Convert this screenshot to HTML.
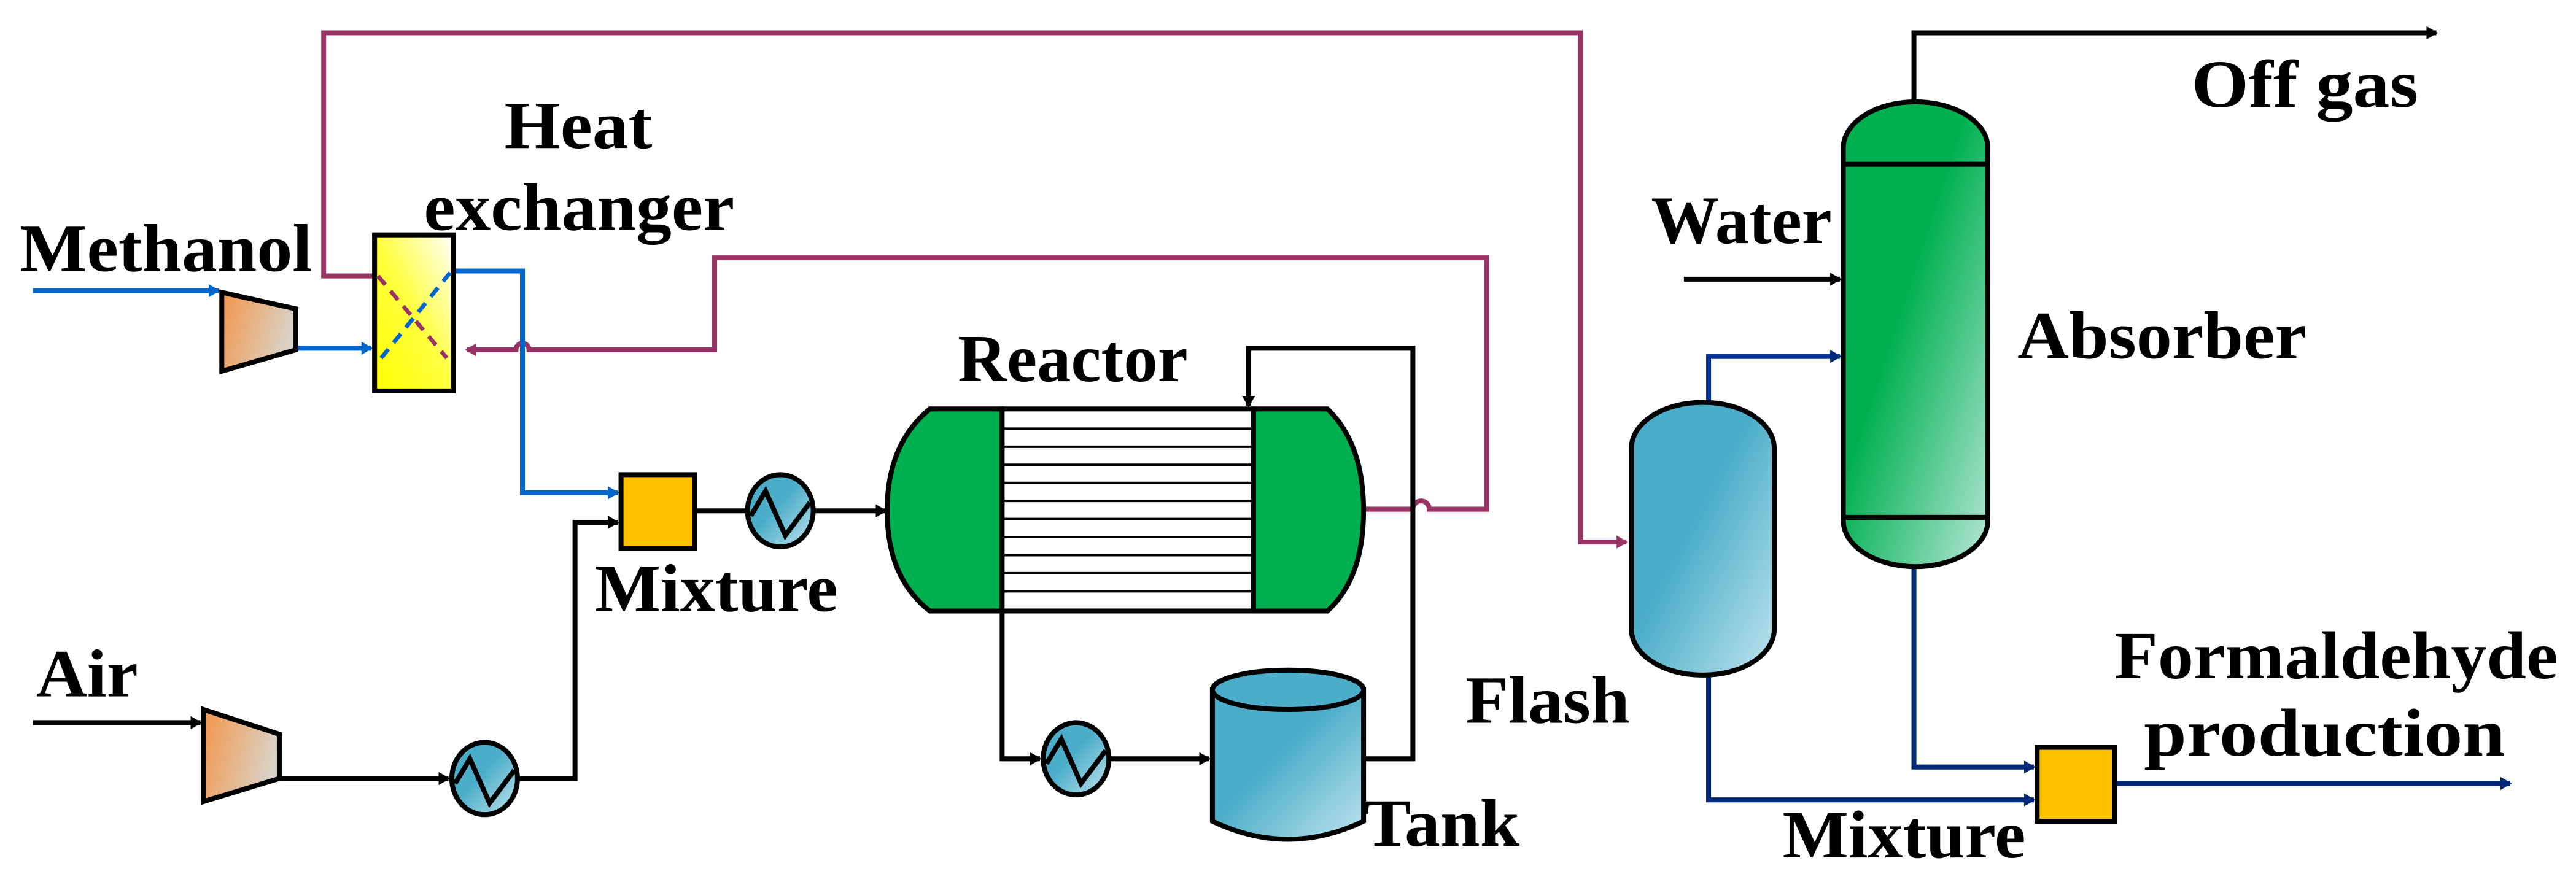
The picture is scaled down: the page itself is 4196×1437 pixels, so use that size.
<!DOCTYPE html>
<html><head><meta charset="utf-8"><style>html,body{margin:0;padding:0;background:#fff}svg{display:block}</style></head><body>
<svg width="4196" height="1437" viewBox="0 0 1568 537" xmlns="http://www.w3.org/2000/svg">
<defs>
<linearGradient id="yel" x1="1" y1="0" x2="0" y2="1"><stop offset="0" stop-color="#ffffff"/><stop offset="0.5" stop-color="#ffff40"/><stop offset="1" stop-color="#ffff00"/></linearGradient>
<linearGradient id="org" x1="0" y1="0" x2="1" y2="0.3"><stop offset="0" stop-color="#f4954a"/><stop offset="1" stop-color="#d9d2c6"/></linearGradient>
<linearGradient id="blu" x1="0.2" y1="0.2" x2="1" y2="1"><stop offset="0.3" stop-color="#4badc8"/><stop offset="1" stop-color="#c0e4ee"/></linearGradient>
<linearGradient id="grn" x1="0.2" y1="0.15" x2="1" y2="1"><stop offset="0.3" stop-color="#00b050"/><stop offset="1" stop-color="#b8e6d8"/></linearGradient>
<marker id="ak" markerWidth="8" markerHeight="8" refX="6" refY="4" orient="auto" markerUnits="userSpaceOnUse"><path d="M0,0 L7,4 L0,8 z" fill="#000"/></marker>
<marker id="ab" markerWidth="8" markerHeight="8" refX="6" refY="4" orient="auto" markerUnits="userSpaceOnUse"><path d="M0,0 L7,4 L0,8 z" fill="#0066cc"/></marker>
<marker id="ap" markerWidth="8" markerHeight="8" refX="6" refY="4" orient="auto" markerUnits="userSpaceOnUse"><path d="M0,0 L7,4 L0,8 z" fill="#993366"/></marker>
<marker id="an" markerWidth="8" markerHeight="8" refX="6" refY="4" orient="auto" markerUnits="userSpaceOnUse"><path d="M0,0 L7,4 L0,8 z" fill="#002878"/></marker>
</defs>
<g fill="none" stroke-linejoin="miter">
<path d="M228,168 H197 V20 H962 V330 H990" stroke="#993366" stroke-width="3" marker-end="url(#ap)"/>
<path d="M830,310 H860 A5,5 0 0 1 870,310 H905 V157 H435 V213 H322 A4,4 0 0 0 314,213 H284" stroke="#993366" stroke-width="3" marker-end="url(#ap)"/>
<path d="M20,177 H133" stroke="#0066cc" stroke-width="3" marker-end="url(#ab)"/>
<path d="M180,212 H226" stroke="#0066cc" stroke-width="3" marker-end="url(#ab)"/>
<path d="M276,165 H318 V300 H376" stroke="#0066cc" stroke-width="3" marker-end="url(#ab)"/>
<path d="M20,440 H122" stroke="#000" stroke-width="3" marker-end="url(#ak)"/>
<path d="M170,474 H273" stroke="#000" stroke-width="3" marker-end="url(#ak)"/>
<path d="M315,474 H350 V318 H376" stroke="#000" stroke-width="3" marker-end="url(#ak)"/>
<path d="M423,311 H454" stroke="#000" stroke-width="3"/>
<path d="M495,311 H539" stroke="#000" stroke-width="3" marker-end="url(#ak)"/>
<path d="M830,462 H860 V212 H760 V247" stroke="#000" stroke-width="3" marker-end="url(#ak)"/>
<path d="M610,372 V462 H633" stroke="#000" stroke-width="3" marker-end="url(#ak)"/>
<path d="M675,462 H736" stroke="#000" stroke-width="3" marker-end="url(#ak)"/>
<path d="M1025,170 H1120" stroke="#000" stroke-width="3" marker-end="url(#ak)"/>
<path d="M1165,62 V20 H1483" stroke="#000" stroke-width="3" marker-end="url(#ak)"/>
<path d="M1040,248 V217 H1120" stroke="#003399" stroke-width="3" marker-end="url(#an)"/>
<path d="M1165,345 V467 H1238" stroke="#002878" stroke-width="3" marker-end="url(#an)"/>
<path d="M1040,410 V487 H1238" stroke="#002878" stroke-width="3" marker-end="url(#an)"/>
<path d="M1287,477 H1528" stroke="#002878" stroke-width="3" marker-end="url(#an)"/>
</g>
<path d="M135,178 L180,188 L180,213 L135,226 Z" fill="url(#org)" stroke="#000" stroke-width="3"/>
<path d="M124,432 L170,447 L170,474 L124,488 Z" fill="url(#org)" stroke="#000" stroke-width="3"/>
<rect x="228" y="143" width="48" height="95" fill="url(#yel)" stroke="#000" stroke-width="3"/>
<path d="M230,168 L272,218" stroke="#993366" stroke-width="2.5" stroke-dasharray="7,5" fill="none"/>
<path d="M232,218 L274,166" stroke="#0066cc" stroke-width="2.5" stroke-dasharray="7,5" fill="none"/>
<rect x="378" y="289" width="45" height="45" fill="#ffc000" stroke="#000" stroke-width="3"/>
<rect x="1240" y="455" width="47" height="45" fill="#ffc000" stroke="#000" stroke-width="3"/>
<g stroke="#000" stroke-width="3">
<ellipse cx="475" cy="311" rx="20" ry="22" fill="url(#blu)"/>
<ellipse cx="295" cy="474" rx="20" ry="22" fill="url(#blu)"/>
<ellipse cx="655" cy="462" rx="20" ry="22" fill="url(#blu)"/>
</g>
<g fill="none" stroke="#000" stroke-width="3">
<path d="M457,314 L466,299 L478,326 L493,306"/>
<path d="M277,477 L286,462 L298,489 L313,469"/>
<path d="M637,465 L646,450 L658,477 L673,457"/>
</g>
<path d="M610,249 H566 Q540,270 540,311 Q540,352 566,372 H610 Z" fill="#00b050" stroke="#000" stroke-width="3"/>
<path d="M763,249 H808 Q830,270 830,311 Q830,352 808,372 H763 Z" fill="#00b050" stroke="#000" stroke-width="3"/>
<rect x="610" y="249" width="153" height="123" fill="#fff" stroke="#000" stroke-width="3"/>
<g stroke="#000" stroke-width="1.5">
<line x1="610" y1="261" x2="763" y2="261"/><line x1="610" y1="272" x2="763" y2="272"/><line x1="610" y1="283" x2="763" y2="283"/><line x1="610" y1="294" x2="763" y2="294"/><line x1="610" y1="305" x2="763" y2="305"/><line x1="610" y1="316" x2="763" y2="316"/><line x1="610" y1="327" x2="763" y2="327"/><line x1="610" y1="338" x2="763" y2="338"/><line x1="610" y1="349" x2="763" y2="349"/><line x1="610" y1="360" x2="763" y2="360"/>
</g>
<path d="M738,420 V500 Q784,522 830,500 V420 Z" fill="url(#blu)" stroke="#000" stroke-width="3"/>
<ellipse cx="784" cy="420" rx="46" ry="12" fill="#4badc8" stroke="#000" stroke-width="3"/>
<rect x="993" y="245" width="87" height="166" rx="43" ry="28" fill="url(#blu)" stroke="#000" stroke-width="3"/>
<rect x="1122" y="62" width="88" height="283" rx="44" ry="28" fill="url(#grn)" stroke="#000" stroke-width="3"/>
<line x1="1122" y1="100" x2="1210" y2="100" stroke="#000" stroke-width="3"/>
<line x1="1122" y1="315" x2="1210" y2="315" stroke="#000" stroke-width="3"/>
<g font-family="Liberation Serif, serif" font-weight="bold" font-size="41" fill="#000">
<text x="307" y="90" textLength="90" lengthAdjust="spacingAndGlyphs">Heat</text>
<text x="258" y="140" textLength="189" lengthAdjust="spacingAndGlyphs">exchanger</text>
<text x="12" y="165" textLength="178" lengthAdjust="spacingAndGlyphs">Methanol</text>
<text x="22" y="424" textLength="62" lengthAdjust="spacingAndGlyphs">Air</text>
<text x="362" y="372" textLength="148" lengthAdjust="spacingAndGlyphs">Mixture</text>
<text x="583" y="232" textLength="140" lengthAdjust="spacingAndGlyphs">Reactor</text>
<text x="830" y="515" textLength="95" lengthAdjust="spacingAndGlyphs">Tank</text>
<text x="892" y="440" textLength="100" lengthAdjust="spacingAndGlyphs">Flash</text>
<text x="1334" y="65" textLength="138" lengthAdjust="spacingAndGlyphs">Off gas</text>
<text x="1005" y="148" textLength="110" lengthAdjust="spacingAndGlyphs">Water</text>
<text x="1228" y="218" textLength="176" lengthAdjust="spacingAndGlyphs">Absorber</text>
<text x="1287" y="413" textLength="270" lengthAdjust="spacingAndGlyphs">Formaldehyde</text>
<text x="1305" y="460" textLength="220" lengthAdjust="spacingAndGlyphs">production</text>
<text x="1085" y="522" textLength="148" lengthAdjust="spacingAndGlyphs">Mixture</text>
</g>
</svg>
</body></html>
